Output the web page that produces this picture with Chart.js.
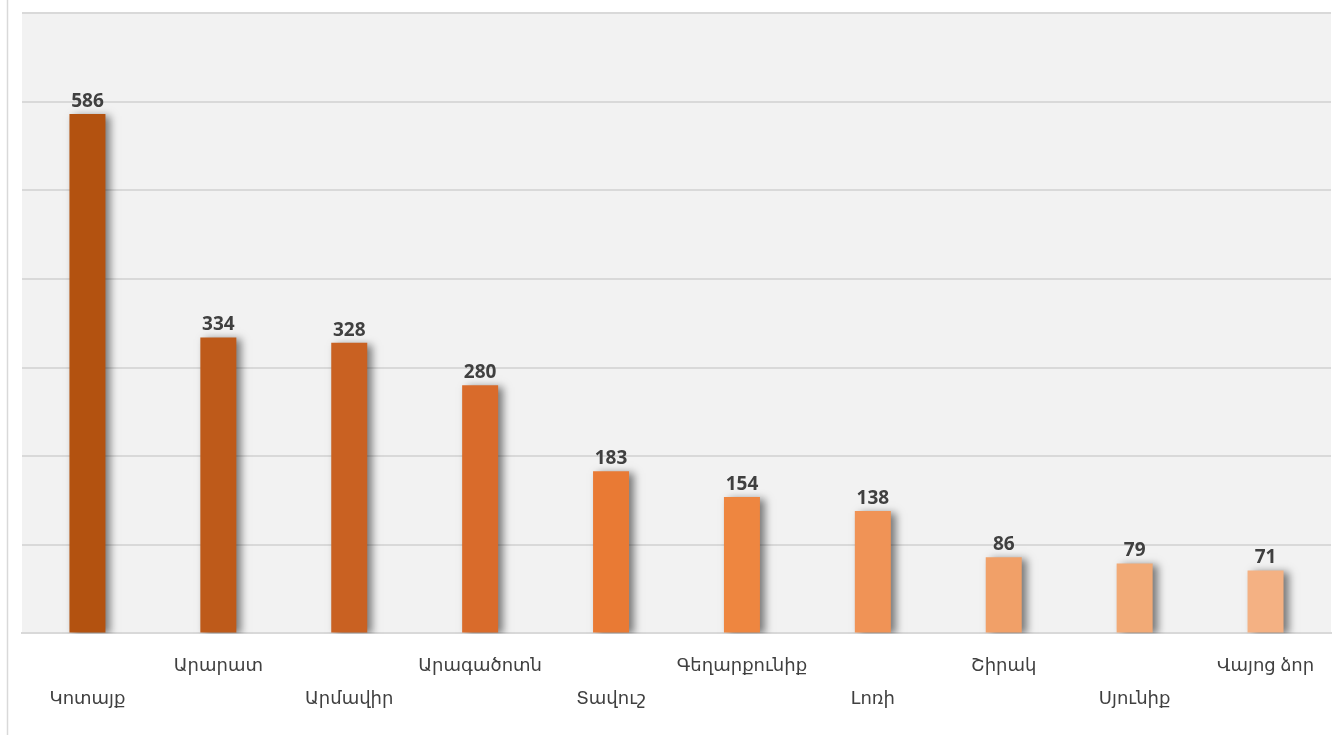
<!DOCTYPE html>
<html>
<head>
<meta charset="utf-8">
<script src="https://cdn.jsdelivr.net/npm/chart.js@4.4.1/dist/chart.umd.min.js"></script>
<style>
    html, body { margin: 0; padding: 0; background: #ffffff; }
    #wrap { width: 1332px; height: 735px; position: relative; }
</style>
</head>
<body>
<div id="wrap"><canvas id="regionsChart"></canvas></div>
<script>
// ===========================
// Data
// ===========================
const regions = ['Կոտայք', 'Արարատ', 'Արմավիր', 'Արագածոտն', 'Տավուշ', 'Գեղարքունիք', 'Լոռի', 'Շիրակ', 'Սյունիք', 'Վայոց ձոր'];
const counts = [586, 334, 328, 280, 183, 154, 138, 86, 79, 71];
const barColors = ['#B35210', '#BE5A1A', '#C96122', '#D96B2B', '#E97A34', '#EE8640', '#F09356', '#F1A068', '#F2AA76', '#F4B183'];
const yMax = 700;
const yStep = 100;

// staggered labels: even index goes on the lower row
const tickLabels = regions.map((name, i) => i % 2 === 0 ? ['', name] : [name, '']);

// Fondo gris del área de trazado + borde izquierdo
const plotBackground = {
    id: 'plotBackground',
    beforeDraw(chart) {
        const { ctx, chartArea } = chart;
        ctx.save();
        ctx.fillStyle = '#F2F2F2';
        ctx.fillRect(chartArea.left, chartArea.top, chartArea.right - chartArea.left, chartArea.bottom - chartArea.top);
        ctx.strokeStyle = '#D9D9D9';
        ctx.lineWidth = 1.5;
        ctx.beginPath();
        ctx.moveTo(7.5, 0);
        ctx.lineTo(7.5, chart.height);
        ctx.stroke();
        ctx.restore();
    }
};

// Sombra de las barras
const barShadow = {
    id: 'barShadow',
    beforeDatasetsDraw(chart) {
        const ctx = chart.ctx;
        ctx.save();
        ctx.shadowColor = 'rgba(0, 0, 0, 0.5)';
        ctx.shadowBlur = 8;
        ctx.shadowOffsetX = 5;
        ctx.shadowOffsetY = 2;
    },
    afterDatasetsDraw(chart) {
        chart.ctx.restore();
    }
};

// Etiquetas de valor sobre las barras
const valueLabels = {
    id: 'valueLabels',
    afterDraw(chart) {
        const ctx = chart.ctx;
        const meta = chart.getDatasetMeta(0);
        ctx.save();
        ctx.font = 'bold 19px "Open Sans", "Liberation Sans", sans-serif';
        ctx.fillStyle = '#404040';
        ctx.textAlign = 'center';
        ctx.textBaseline = 'bottom';
        meta.data.forEach((bar, i) => {
            ctx.fillText(String(counts[i]), bar.x, bar.y - 3);
        });
        ctx.restore();
    }
};

const chart = new Chart(document.getElementById('regionsChart'), {
    type: 'bar',
    data: {
        labels: tickLabels,
        datasets: [{
            data: counts,
            backgroundColor: barColors,
            borderWidth: 0,
            barPercentage: 0.275,
            categoryPercentage: 1
        }]
    },
    options: {
        responsive: true,
        maintainAspectRatio: false,
        animation: false,
        layout: {
            padding: { left: 22, right: 1, top: 13, bottom: 3 }
        },
        plugins: {
            legend: { display: false },
            tooltip: { enabled: false }
        },
        scales: {
            x: {
                grid: { display: false, drawTicks: false },
                border: { display: true, color: '#D9D9D9', width: 2 },
                ticks: {
                    color: '#404040',
                    padding: 16,
                    maxRotation: 0,
                    autoSkip: false,
                    font: { family: '"Noto Sans", "DejaVu Sans", sans-serif', size: 18, lineHeight: 1.85 }
                }
            },
            y: {
                min: 0,
                max: yMax,
                grid: { color: '#D9D9D9', lineWidth: 2, drawTicks: false },
                border: { display: false },
                ticks: { display: false, stepSize: yStep }
            }
        }
    },
    plugins: [plotBackground, barShadow, valueLabels]
});
</script>
</body>
</html>
